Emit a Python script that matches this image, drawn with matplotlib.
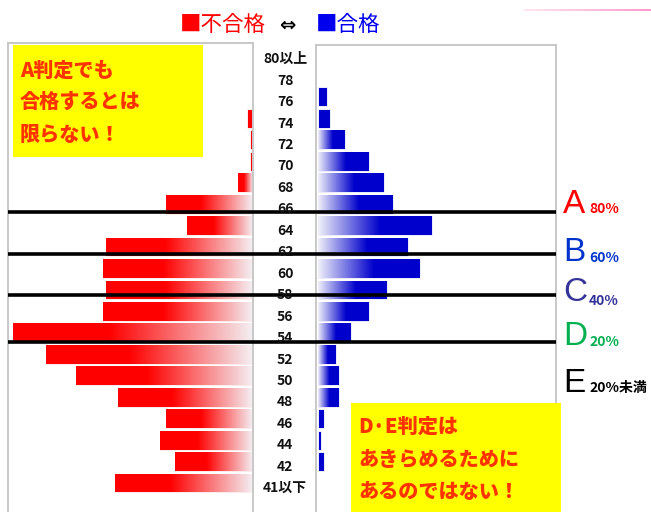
import numpy as np
import matplotlib
matplotlib.use("Agg")
import matplotlib.pyplot as plt
from matplotlib.colors import LinearSegmentedColormap
from matplotlib.patches import Rectangle

# score bands (top to bottom)
scores = ["80以上", "78", "76", "74", "72", "70", "68", "66", "64", "62", "60",
          "58", "56", "54", "52", "50", "48", "46", "44", "42", "41以下"]
# not passed (red, left) / passed (blue, right)
fail = [0, 0, 0, 2, 1, 1, 5, 29, 22, 49, 50, 49, 50, 80, 69, 59, 45, 29, 31, 26, 46]
passed = [0, 0, 3, 4, 9, 17, 22, 25, 38, 30, 34, 23, 17, 11, 6, 7, 7, 2, 1, 2, 0]

# grade borders (row position) and labels
grade_lines = [7.37, 9.32, 11.24, 13.43]
grades = ["A", "B", "C", "D", "E"]
grade_pct = ["80%", "60%", "40%", "20%", "20%未満"]
grade_colors = ["#FF0000", "#0033CC", "#333399", "#00B050", "#000000"]

W, H = 651, 512
JP = ["Noto Sans CJK JP", "DejaVu Sans"]
NARROW = ["Liberation Sans Narrow", "Noto Sans CJK JP", "DejaVu Sans"]


def fx(px):
    return px / W


def fy(py):
    return 1 - py / H


fig = plt.figure(figsize=(W / 100, H / 100), dpi=100)

y = np.arange(len(scores))
ylim_bottom = (H - 54) / 21.45

red_cmap = LinearSegmentedColormap.from_list("r", [(0, "#F4F0F4"), (0.6, "#FF0000"), (1, "#FF0000")])
blue_cmap = LinearSegmentedColormap.from_list("b", [(0, "#F0F0FA"), (0.55, "#0000CC"), (1, "#0000CC")])
ramp = np.linspace(0, 1, 256).reshape(1, -1)


def gradient_bars(ax, values, solid, cmap):
    bars = ax.barh(y, values, height=0.88, color=solid, edgecolor="white", linewidth=0.6, zorder=2)
    for b, v in zip(bars, values):
        if v < 5:
            continue
        x0, w = b.get_x(), b.get_width()
        y0, h = b.get_y(), b.get_height()
        im = ax.imshow(ramp, cmap=cmap, aspect="auto", extent=[x0, x0 + w, y0 + h, y0],
                       zorder=2.5, interpolation="bilinear")
        im.set_clip_path(b)
    return bars


def frame(ax):
    for s in ["left", "right", "top"]:
        ax.spines[s].set_color("#C8C8C8")
        ax.spines[s].set_linewidth(1.4)
    ax.spines["bottom"].set_visible(False)
    ax.set_xticks([])
    ax.set_yticks([])


# left panel: not passed
ax_l = fig.add_axes([fx(8), 0, (253 - 8) / W, (H - 43) / H])
gradient_bars(ax_l, fail, "#FF0000", red_cmap)
ax_l.set_xlim(245 / 3, 0)
ax_l.set_ylim(ylim_bottom, (43 - 54) / 21.45)
frame(ax_l)

# right panel: passed
ax_r = fig.add_axes([fx(316), 0, (556 - 316) / W, (H - 45) / H])
gradient_bars(ax_r, passed, "#0000CC", blue_cmap)
ax_r.set_xlim(-2 / 3, 238 / 3)
ax_r.set_ylim(ylim_bottom, (45 - 54) / 21.45)
frame(ax_r)

# overlay: score labels and grade lines
ax_o = fig.add_axes([fx(8), 0, (556 - 8) / W, (H - 43) / H], zorder=5)
ax_o.set_xlim(0, 1)
ax_o.set_ylim(ylim_bottom, (43 - 54) / 21.45)
ax_o.axis("off")
ax_o.patch.set_alpha(0)
for i, s in enumerate(scores):
    ax_o.text((285 - 8) / 548, i + 0.43, s, ha="center", va="baseline",
              fontsize=10, fontweight="bold", family=NARROW, color="#111111")
ax_o.hlines(grade_lines, 0, 1, color="black", linewidth=2.6)

# grade legend on the right
letter_base = [213, 261, 301, 345, 392]
pct_base = [213, 262, 305, 346, 392]
for g, p, c, lb, pb in zip(grades, grade_pct, grade_colors, letter_base, pct_base):
    fig.text(fx(563), fy(lb), g, fontsize=24, color=c, family=["Liberation Sans", "DejaVu Sans"],
             ha="left", va="baseline")
    fig.text(fx(589), fy(pb), p, fontsize=10, color=c, fontweight="bold", family=NARROW,
             ha="left", va="baseline")

# title
fig.text(fx(180), fy(25), "■不合格", fontsize=15.5, color="#FF0000", family=JP, ha="left", va="center")
fig.text(fx(279), fy(25), "⇔", fontsize=14, color="black", family=["DejaVu Sans"], fontweight="bold",
         ha="left", va="center")
fig.text(fx(316), fy(25), "■合格", fontsize=15.5, color="#0000EE", family=JP, ha="left", va="center")

# pink accent line top right
ax_p = fig.add_axes([fx(524), fy(11), (W - 524) / W, 2.5 / H])
ax_p.imshow(ramp, cmap=LinearSegmentedColormap.from_list("p", ["#FFE6F2", "#FF99CC"]),
            aspect="auto", extent=[0, 1, 0, 1])
ax_p.axis("off")

# yellow notes
fig.patches.append(Rectangle((fx(13), fy(157)), (203 - 13) / W, (157 - 45) / H,
                             transform=fig.transFigure, facecolor="#FFFF00", edgecolor="none", zorder=6))
for txt, cy in zip(["A判定でも", "合格するとは", "限らない！"], [71, 102, 135]):
    fig.text(fx(20), fy(cy), txt, fontsize=14.5, color="#FF3300", fontweight="heavy",
             family=JP, ha="left", va="center", zorder=7)

fig.patches.append(Rectangle((fx(351), 0), (561 - 351) / W, (H - 403) / H,
                             transform=fig.transFigure, facecolor="#FFFF00", edgecolor="none", zorder=6))
for txt, cy in zip(["D·E判定は", "あきらめるために", "あるのではない！"], [427, 460, 492]):
    fig.text(fx(358), fy(cy), txt, fontsize=14.5, color="#FF3300", fontweight="heavy",
             family=JP, ha="left", va="center", zorder=7)

fig.savefig("out.png", dpi=100)
